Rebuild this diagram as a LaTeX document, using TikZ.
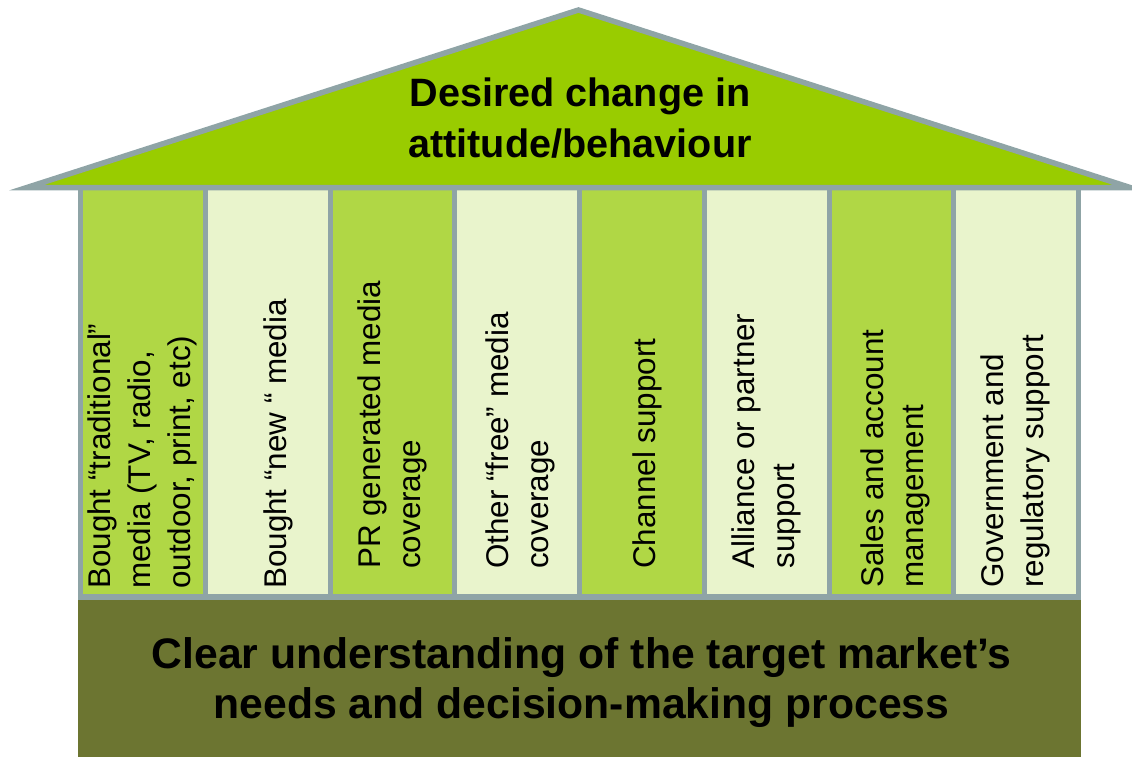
\documentclass[tikz,border=0pt]{standalone}
\usepackage{fontspec}
\setmainfont{Liberation Sans}
\definecolor{roofgreen}{HTML}{99CC00}
\definecolor{framegray}{HTML}{8FA4A6}
\definecolor{olive}{HTML}{6C7531}
\definecolor{darkpillar}{HTML}{B0D745}
\definecolor{lightpillar}{HTML}{E9F4CC}
\begin{document}
\begin{tikzpicture}[x=1pt,y=-1pt,
  pillartext/.style={rotate=90, anchor=west, inner sep=0pt, text=black,
    font=\fontsize{31.4}{40}\selectfont},
  bigtext/.style={anchor=base, inner sep=0pt, text=black,
    font=\bfseries\fontsize{39.6}{50.6}\selectfont},
  basetext/.style={anchor=base, inner sep=0pt, text=black,
    font=\bfseries\fontsize{42.7}{50}\selectfont}]
\useasboundingbox (0,0) rectangle (1132,757);
\setlength{\tabcolsep}{0pt}
% frame
\fill[framegray] (78,187) rectangle (1081,599.5);
% pillars
\foreach \k/\c in {0/darkpillar,1/lightpillar,2/darkpillar,3/lightpillar,4/darkpillar,5/lightpillar,6/darkpillar,7/lightpillar}{
  \pgfmathsetmacro{\l}{83+\k*124.75}
  \fill[\c] (\l,190) rectangle ++(119.75,404);
}
% foundation
\fill[olive] (78,599.5) rectangle (1081,757);
% roof
\filldraw[fill=roofgreen, draw=framegray, line width=5.5pt] (27,187.5) -- (578.5,10) -- (1130,187.5) -- cycle;
% texts
\node[bigtext] (roof) at (580,106.7) {\begin{tabular}[t]{c}Desired change in\\attitude/behaviour\end{tabular}};
\node[basetext] (base) at (581.5,668.3) {\begin{tabular}[t]{c}Clear understanding of the target market’s\\needs and decision-making process\end{tabular}};
\node[pillartext] (p1) at (142,589) {\begin{tabular}[t]{l}Bought “traditional”\\media (TV, radio,\\outdoor, print, etc)\end{tabular}};
\node[pillartext] (p2) at (278,589) {\begin{tabular}[t]{l}Bought “new “ media\end{tabular}};
\node[pillartext] (p3) at (392,569) {\begin{tabular}[t]{l}PR generated media\\coverage\end{tabular}};
\node[pillartext] (p4) at (520,569) {\begin{tabular}[t]{l}Other “free” media\\coverage\end{tabular}};
\node[pillartext] (p5) at (647,569) {\begin{tabular}[t]{l}Channel support\end{tabular}};
\node[pillartext] (p6) at (766,568.5) {\begin{tabular}[t]{l}Alliance or partner\\support\end{tabular}};
\node[pillartext] (p7) at (895,588) {\begin{tabular}[t]{l}Sales and account\\management\end{tabular}};
\node[pillartext] (p8) at (1015,588) {\begin{tabular}[t]{l}Government and\\regulatory support\end{tabular}};
\end{tikzpicture}
\end{document}
